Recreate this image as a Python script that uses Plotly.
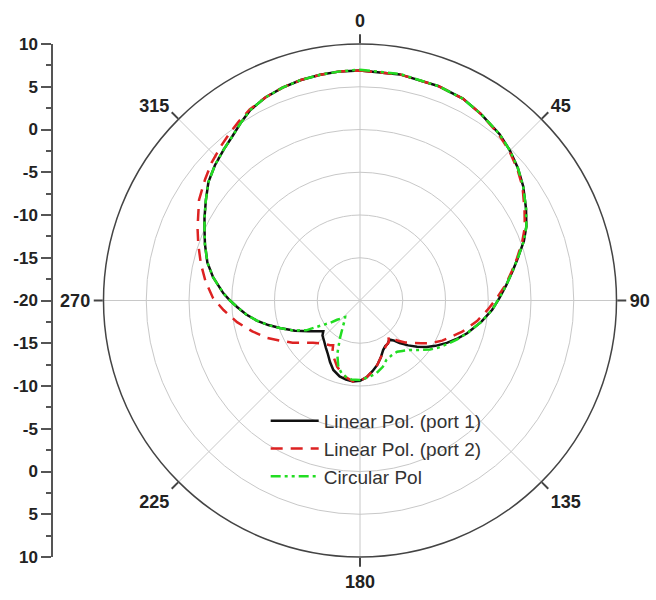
import plotly.graph_objects as go

# ---------------- data (angle in degrees clockwise from top, gain in dB) ----------------
theta_port1 = [0, 10, 20, 27, 33, 40, 45, 50, 55, 61, 66, 70, 75, 79, 84, 89, 94, 100, 107, 112,
               116, 121, 125, 129, 133, 137, 140, 143, 147, 151, 155, 160, 165, 170, 175, 180, 185,
               190, 195, 201, 206, 211, 216, 222, 227, 230, 234, 239, 245, 251, 255, 259, 263, 267,
               270, 273, 279, 284, 290, 294, 298, 303, 308, 313, 318, 322, 326, 330, 335, 340, 345,
               350, 355, 360]
r_port1 = [6.9, 6.85, 6.7, 6.5, 6.0, 5.4, 4.8, 4.1, 3.3, 2.2, 1.3, 0.4, -0.9, -1.8, -2.8, -3.7, -4.5,
           -5.6, -6.9, -7.9, -8.7, -9.7, -10.5, -11.4, -12.3, -13.2, -13.9, -14.3, -14.0, -13.9, -13.6,
           -12.9, -12.2, -11.6, -11.0, -10.6, -10.5, -10.6, -10.8, -11.3, -12.0, -12.7, -13.2, -13.7,
           -14.0, -14.4, -13.9, -13.0, -11.6, -10.1, -8.9, -7.7, -6.6, -5.6, -4.8, -4.0, -2.6, -1.6,
           -0.7, -0.1, 0.6, 1.5, 2.5, 3.2, 3.8, 4.3, 5.0, 5.7, 6.2, 6.5, 6.7, 6.8, 6.9, 6.9]

theta_port2 = [0, 10, 20, 27, 33, 40, 45, 50, 55, 61, 66, 70, 75, 79, 84, 89, 94, 100, 107, 112,
               116, 121, 125, 129, 133, 137, 140, 142, 145, 150, 155, 160, 165, 170, 175, 180, 185,
               191, 199, 205, 208, 211, 214, 220, 228, 233, 238, 243, 248, 254, 260, 266, 271, 277,
               283, 289, 294, 302, 308, 313, 318, 322, 326, 330, 335, 340, 345, 350, 355, 360]
r_port2 = [6.9, 6.85, 6.7, 6.5, 6.0, 5.3, 4.7, 4.0, 3.2, 2.0, 1.1, 0.2, -1.0, -1.9, -2.9, -4.0, -5.0,
           -6.1, -7.5, -8.6, -9.3, -10.3, -11.3, -12.1, -12.8, -13.6, -14.3, -14.6, -14.1, -13.9,
           -13.5, -12.9, -12.2, -11.6, -11.0, -10.6, -10.5, -10.9, -11.8, -12.7, -13.1, -13.9, -13.7,
           -13.4, -12.6, -11.8, -10.7, -9.6, -8.3, -6.9, -5.4, -4.0, -2.8, -1.8, -0.9, 0.0, 0.8,
           2.2, 3.0, 3.7, 4.3, 4.8, 5.3, 5.8, 6.2, 6.5, 6.7, 6.8, 6.9, 6.9]

theta_circ = [0, 10, 20, 27, 33, 40, 45, 50, 55, 61, 66, 70, 75, 79, 84, 89, 94, 100, 107, 112,
              116, 121, 125, 130, 135, 140, 144, 150, 156, 161, 167, 173, 180, 186, 190, 194, 198,
              203, 208, 213, 218, 222, 226, 230, 233, 237, 241, 246, 251, 255, 259, 263, 267, 270,
              273, 279, 284, 290, 294, 298, 303, 308, 313, 318, 322, 326, 330, 335, 340, 345, 350,
              355, 360]
r_circ = [7.0, 6.9, 6.7, 6.5, 6.0, 5.4, 4.8, 4.1, 3.3, 2.2, 1.3, 0.4, -0.9, -1.8, -2.8, -3.7, -4.5,
          -5.6, -6.9, -7.8, -8.5, -9.3, -10.0, -11.0, -11.8, -12.3, -12.6, -12.6, -12.4, -11.8,
          -11.3, -11.0, -10.7, -10.7, -10.9, -11.2, -11.8, -13.2, -15.0, -16.3, -17.1, -17.4, -17.0,
          -16.5, -15.7, -14.7, -12.8, -11.4, -10.1, -8.9, -7.7, -6.6, -5.6, -4.8, -4.0, -2.6, -1.6,
          -0.7, -0.1, 0.6, 1.5, 2.5, 3.2, 3.8, 4.3, 5.0, 5.7, 6.2, 6.5, 6.7, 6.8, 6.9, 7.0]

series_names = ["Linear Pol. (port 1)", "Linear Pol. (port 2)", "Circular Pol"]
radial_ticks = [-20, -15, -10, -5, 0, 5, 10]
angular_ticks = [0, 45, 90, 135, 180, 225, 270, 315]

# ---------------- figure ----------------
FONT = "Liberation Sans, Arial, sans-serif"
fig = go.Figure()

fig.add_trace(go.Scatterpolar(theta=theta_port1, r=r_port1, mode="lines", name=series_names[0],
                              line=dict(color="#111111", width=2.5)))
fig.add_trace(go.Scatterpolar(theta=theta_port2, r=r_port2, mode="lines", name=series_names[1],
                              line=dict(color="#dd2222", width=2.5, dash="12px,8px")))
fig.add_trace(go.Scatterpolar(theta=theta_circ, r=r_circ, mode="lines", name=series_names[2],
                              line=dict(color="#22dd22", width=2.5, dash="10px,4px,3px,4px,3px,4px")))

# left mirrored radial scale (Origin style)
r_min = radial_ticks[0]
y_pos = [t - r_min for t in radial_ticks]
scale_vals = sorted(set(y_pos + [-v for v in y_pos]))
scale_text = [str(abs(v) + r_min) for v in scale_vals]
fig.add_trace(go.Scatter(x=[0] * len(scale_vals), y=scale_vals, mode="markers",
                         marker=dict(opacity=0), showlegend=False, hoverinfo="skip",
                         xaxis="x", yaxis="y"))

W, H = 656, 600
cx, cy, R = 360, 300.5, 256.5
dom_x = [(cx - R) / W, (cx + R) / W]
dom_y = [(H - cy - R) / H, (H - cy + R) / H]

fig.update_layout(
    template="none",
    width=W, height=H,
    margin=dict(l=0, r=0, t=0, b=0, autoexpand=False),
    paper_bgcolor="white",
    plot_bgcolor="rgba(0,0,0,0)",
    font=dict(family=FONT, color="#222222"),
    polar=dict(
        domain=dict(x=dom_x, y=dom_y),
        bgcolor="white",
        angularaxis=dict(
            direction="clockwise", rotation=90,
            tickmode="array", tickvals=angular_ticks,
            ticktext=[str(a) for a in angular_ticks],
            ticks="outside", ticklen=9, tickwidth=1.5, tickcolor="#444444",
            showline=True, linecolor="#444444", linewidth=1.5,
            showgrid=True, gridcolor="#c8c8c8", gridwidth=1,
            tickfont=dict(family=FONT, size=18, color="#222222", weight="bold"),
        ),
        radialaxis=dict(
            range=[radial_ticks[0], radial_ticks[-1]],
            tickmode="array", tickvals=radial_ticks[1:-1],
            showticklabels=False, ticks="", showline=False,
            showgrid=True, gridcolor="#c8c8c8", gridwidth=1,
        ),
    ),
    xaxis=dict(domain=[53 / W, 60 / W], visible=False, range=[-1, 1], fixedrange=True,
               automargin=False),
    yaxis=dict(
        domain=dom_y, range=[scale_vals[0], scale_vals[-1]], anchor="x",
        tickmode="array", tickvals=scale_vals, ticktext=scale_text,
        ticks="outside", ticklen=10, tickwidth=1.5, tickcolor="#555555",
        showline=True, linecolor="#555555", linewidth=1.5,
        showgrid=False, zeroline=False, fixedrange=True, automargin=False,
        minor=dict(tickmode="linear", tick0=2.5, dtick=5, ticks="outside", ticklen=5,
                   tickwidth=1.5, tickcolor="#555555", showgrid=False),
        tickfont=dict(family=FONT, size=17, color="#222222", weight="bold"),
    ),
    showlegend=True,
    legend=dict(
        x=0.405, y=0.33, xanchor="left", yanchor="top",
        bgcolor="rgba(0,0,0,0)", borderwidth=0,
        font=dict(family=FONT, size=19, color="#333333"),
        tracegroupgap=0, itemwidth=48,
    ),
)

fig.write_html("out.html")
